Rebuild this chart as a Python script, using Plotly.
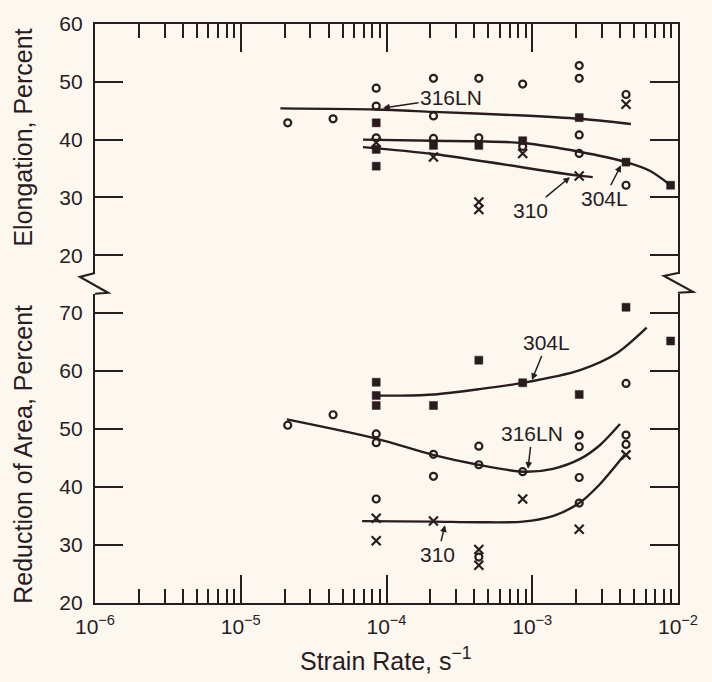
import math
import plotly.graph_objects as go

INK = "#2a1b1e"
BG = "#fcf8f0"
FONT = "Liberation Sans, Arial, sans-serif"

# ---------------- Elongation (top panel) ----------------
el_316_x = [2.1e-5, 4.3e-5, 8.5e-5, 8.5e-5, 8.5e-5, 2.1e-4, 2.1e-4, 2.1e-4, 4.3e-4, 4.3e-4,
            8.6e-4, 8.6e-4, 2.1e-3, 2.1e-3, 2.1e-3, 2.1e-3, 4.4e-3, 4.4e-3]
el_316_y = [42.9, 43.6, 48.9, 45.8, 40.3, 50.6, 44.1, 40.2, 50.6, 40.3,
            49.6, 38.8, 52.8, 50.6, 40.8, 37.6, 47.8, 32.1]
el_304_x = [8.5e-5, 8.5e-5, 8.5e-5, 2.1e-4, 4.3e-4, 8.6e-4, 2.1e-3, 4.4e-3, 8.9e-3]
el_304_y = [42.9, 38.3, 35.4, 39.0, 39.0, 39.8, 43.8, 36.1, 32.1]
el_310_x = [8.5e-5, 2.1e-4, 4.3e-4, 4.3e-4, 8.6e-4, 2.1e-3, 4.4e-3]
el_310_y = [39.5, 37.0, 29.2, 27.9, 37.6, 33.7, 46.1]

el_316_fit_x = [1.87e-5, 8.5e-5, 2.1e-4, 8.0e-4, 2.1e-3, 4.75e-3]
el_316_fit_y = [45.4, 45.2, 44.8, 44.2, 43.6, 42.7]
el_304_fit_x = [6.9e-5, 2.1e-4, 4.3e-4, 8.6e-4, 2.1e-3, 4.4e-3, 6.4e-3, 8.9e-3]
el_304_fit_y = [40.0, 39.8, 39.7, 39.4, 37.9, 36.1, 34.6, 32.1]
el_310_fit_x = [6.9e-5, 2.1e-4, 2.0e-3, 2.6e-3]
el_310_fit_y = [38.7, 37.5, 33.8, 33.5]

# ---------------- Reduction of area (bottom panel) ----------------
ra_316_x = [2.1e-5, 4.3e-5, 8.5e-5, 8.5e-5, 8.5e-5, 2.1e-4, 2.1e-4, 4.3e-4, 4.3e-4, 4.3e-4,
            8.6e-4, 2.1e-3, 2.1e-3, 2.1e-3, 2.1e-3, 4.4e-3, 4.4e-3, 4.4e-3]
ra_316_y = [50.6, 52.4, 49.1, 47.6, 37.9, 45.6, 41.8, 47.0, 43.8, 27.9,
            42.6, 48.9, 46.9, 41.6, 37.2, 57.8, 48.9, 47.3]
ra_304_x = [8.5e-5, 8.5e-5, 8.5e-5, 2.1e-4, 4.3e-4, 8.6e-4, 2.1e-3, 4.4e-3, 8.9e-3]
ra_304_y = [58.0, 55.7, 54.0, 54.0, 61.8, 57.9, 55.9, 70.9, 65.1]
ra_310_x = [8.5e-5, 8.5e-5, 2.1e-4, 4.3e-4, 4.3e-4, 8.6e-4, 2.1e-3, 4.4e-3]
ra_310_y = [34.6, 30.7, 34.1, 29.2, 26.5, 37.9, 32.7, 45.5]

ra_316_fit_x = [2.07e-5, 8.5e-5, 2.08e-4, 4.25e-4, 8.65e-4, 1.39e-3, 2.13e-3, 2.92e-3, 4.0e-3]
ra_316_fit_y = [51.6, 48.3, 45.5, 43.8, 42.6, 43.1, 44.8, 47.2, 50.8]
ra_304_fit_x = [8.5e-5, 1.24e-4, 2.12e-4, 4.3e-4, 8.6e-4, 2.13e-3, 3.8e-3, 6.1e-3]
ra_304_fit_y = [55.7, 55.7, 55.9, 56.8, 57.9, 60.1, 63.0, 67.4]
ra_310_fit_x = [6.8e-5, 2.1e-4, 4.3e-4, 8.6e-4, 1.4e-3, 2.1e-3, 2.9e-3, 4.3e-3]
ra_310_fit_y = [34.1, 34.0, 33.9, 34.0, 35.0, 37.2, 40.4, 45.5]

x_tickvals = [1e-6, 1e-5, 1e-4, 1e-3, 1e-2]
x_ticktext = ["10<sup>−6</sup>", "10<sup>−5</sup>", "10<sup>−4</sup>", "10<sup>−3</sup>", "10<sup>−2</sup>"]
el_ticks = [20, 30, 40, 50, 60]
ra_ticks = [20, 30, 40, 50, 60, 70]

fig = go.Figure()

def add_pts(x, y, kind, xa, ya):
    if kind == "o":
        m = dict(symbol="circle-open", size=7, color=INK, line=dict(width=2.2, color=INK))
    elif kind == "s":
        m = dict(symbol="square", size=8, color=INK, line=dict(width=0.5, color=INK))
    else:
        m = dict(symbol="x-thin-open", size=9, color=INK, line=dict(width=2.2, color=INK))
    fig.add_trace(go.Scatter(x=x, y=y, mode="markers", marker=m, xaxis=xa, yaxis=ya,
                             showlegend=False, hoverinfo="skip"))

def add_fit(x, y, xa, ya):
    fig.add_trace(go.Scatter(x=x, y=y, mode="lines", line=dict(color=INK, width=2.4, shape="spline", smoothing=0.8),
                             xaxis=xa, yaxis=ya, showlegend=False, hoverinfo="skip"))

add_fit(el_316_fit_x, el_316_fit_y, "x2", "y")
add_fit(el_304_fit_x, el_304_fit_y, "x2", "y")
add_fit(el_310_fit_x, el_310_fit_y, "x2", "y")
add_pts(el_316_x, el_316_y, "o", "x2", "y")
add_pts(el_304_x, el_304_y, "s", "x2", "y")
add_pts(el_310_x, el_310_y, "x", "x2", "y")

add_fit(ra_316_fit_x, ra_316_fit_y, "x", "y2")
add_fit(ra_304_fit_x, ra_304_fit_y, "x", "y2")
add_fit(ra_310_fit_x, ra_310_fit_y, "x", "y2")
add_pts(ra_316_x, ra_316_y, "o", "x", "y2")
add_pts(ra_304_x, ra_304_y, "s", "x", "y2")
add_pts(ra_310_x, ra_310_y, "x", "x", "y2")

axis_common = dict(showgrid=False, zeroline=False, showline=True, linecolor=INK, linewidth=2.2,
                   tickcolor=INK, tickwidth=2, ticks="inside", tickfont=dict(family=FONT, size=21, color=INK))

fig.update_layout(
    width=712, height=682,
    margin=dict(l=95, r=34, t=17, b=79),
    paper_bgcolor=BG, plot_bgcolor=BG,
    font=dict(family=FONT, color=INK),
    xaxis=dict(type="log", range=[-6, -2], domain=[0, 1], anchor="y2", side="bottom",
               tickvals=x_tickvals, ticktext=x_ticktext, ticklen=28,
               ticklabelstandoff=4,
               minor=dict(ticks="inside", ticklen=14, tickwidth=1.6, tickcolor=INK, dtick="D1", showgrid=False),
               **axis_common),
    xaxis2=dict(type="log", range=[-6, -2], domain=[0, 1], anchor="y", side="top",
                tickvals=x_tickvals, showticklabels=False, ticklen=28,
                minor=dict(ticks="inside", ticklen=14, tickwidth=1.6, tickcolor=INK, dtick="D1", showgrid=False),
                **axis_common),
    yaxis=dict(range=[16.75, 60], domain=[0.5683, 1], anchor="x2", tickvals=el_ticks, ticklen=28,
               mirror="ticks", ticklabelstandoff=6, **axis_common),
    yaxis2=dict(range=[20, 73.23], domain=[0, 0.5341], anchor="x", tickvals=ra_ticks, ticklen=28,
                mirror="ticks", ticklabelstandoff=6, **axis_common),
)

# axis break zig-zags (paper coordinates)
def px2paper(px, py):
    return (px - 95) / 583, (603 - py) / 586

def zig(points):
    pts = [px2paper(a, b) for a, b in points]
    return "M " + " L ".join(f"{a:.4f},{b:.4f}" for a, b in pts)

for pts in ([(95, 269), (80, 273), (108, 289), (95, 290)],
            [(678, 269), (664, 272), (693, 288), (678, 289)]):
    fig.add_shape(type="path", path=zig(pts), xref="paper", yref="paper",
                  line=dict(color=INK, width=2.2))

lab_font = dict(family=FONT, size=21, color=INK)
def label(text, xv, yv, ax, ay, xa, ya):
    fig.add_annotation(text=text, x=math.log10(xv), y=yv, xref=xa, yref=ya, ax=ax, ay=ay,
                       showarrow=True, arrowhead=2, arrowsize=0.9, arrowwidth=1.5, arrowcolor=INK,
                       font=lab_font, standoff=0, startstandoff=0)

label("316LN", 10 ** -4.024, 45.47, 68, -10, "x2", "y")
label("310", 10 ** -2.741, 33.5, -40, 33, "x2", "y")
label("304L", 10 ** -2.391, 35.56, -17, 33, "x2", "y")
label("304L", 10 ** -3.002, 58.4, 15, -37, "x", "y2")
label("316LN", 10 ** -3.029, 43.1, 4, -35, "x", "y2")
label("310", 10 ** -3.599, 33.4, -7, 29, "x", "y2")

title_font = dict(family=FONT, size=25, color=INK)
fig.add_annotation(text="Strain Rate, s<sup>−1</sup>", x=0.499, y=-0.097, xref="paper", yref="paper",
                   showarrow=False, font=title_font, xanchor="center", yanchor="middle")
fig.add_annotation(text="Elongation, Percent", x=-0.1235, y=0.8038, xref="paper", yref="paper",
                   showarrow=False, font=title_font, textangle=-90, xanchor="center", yanchor="middle")
fig.add_annotation(text="Reduction of Area, Percent", x=-0.1235, y=0.2577, xref="paper", yref="paper",
                   showarrow=False, font=title_font, textangle=-90, xanchor="center", yanchor="middle")

fig.write_html("out.html")
